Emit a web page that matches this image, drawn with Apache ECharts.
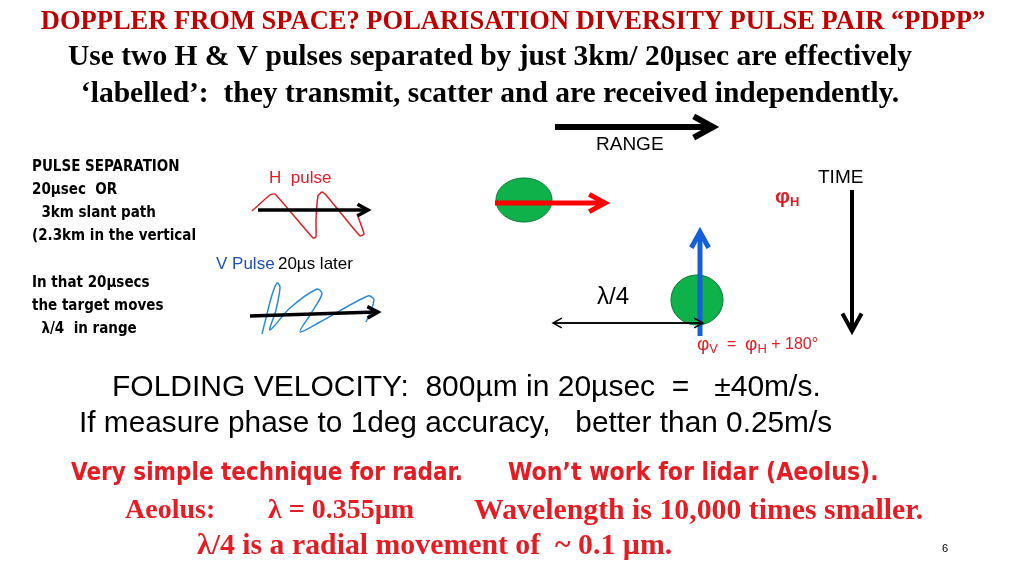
<!DOCTYPE html>
<html><head><meta charset="utf-8">
<script src="https://cdn.jsdelivr.net/npm/echarts@6/dist/echarts.min.js"></script>
<style>html,body{margin:0;background:#fff}#c{width:1024px;height:576px}</style>
</head><body><div id="c"></div>
<script>
var titleLines = ['DOPPLER FROM SPACE? POLARISATION DIVERSITY PULSE PAIR “PDPP”',
  'Use two H & V pulses separated by just 3km/ 20µsec are effectively',
  '‘labelled’:  they transmit, scatter and are received independently.'];
var leftNotes = ['PULSE SEPARATION', '20µsec  OR', '  3km slant path', '(2.3km in the vertical',
  '', 'In that 20µsecs', 'the target moves', '  λ/4  in range'];
var hWave = [[252,211],[270,195],[275,194],[313,238],[316,237],[316,220],[318,196],[322,192],[326,195],[360,236],[364,234],[357,214]];
var vWave = [[262,334],[266,318],[272,295],[277,283],[280,287],[276,310],[270,330],[290,308],[317,289],[322,294],[310,315],[300,332],[320,322],[368,296],[374,300],[366,322]];
var RED = '#e51c23', SERIF = 'Liberation Serif', SANS = 'Liberation Sans';

function txt(x, y, s, size, color, font, weight, align) {
  return { type: 'text', x: x, y: y, style: { text: s, fontSize: size, fill: color || '#000',
    fontFamily: font || SANS, fontWeight: weight || 'normal', textAlign: align || 'left', textVerticalAlign: 'middle' } };
}
function arrow(x1, y1, x2, y2, color, w, head) {
  var a = Math.atan2(y2 - y1, x2 - x1), h = head || 14;
  var p1 = [x2 - h * Math.cos(a - 0.5), y2 - h * Math.sin(a - 0.5)];
  var p2 = [x2 - h * Math.cos(a + 0.5), y2 - h * Math.sin(a + 0.5)];
  return [
    { type: 'line', shape: { x1: x1, y1: y1, x2: x2 - Math.cos(a) * 2, y2: y2 - Math.sin(a) * 2 }, style: { stroke: color, lineWidth: w } },
    { type: 'polyline', shape: { points: [p1, [x2, y2], p2] }, style: { stroke: color, lineWidth: w, fill: null, lineJoin: 'miter' } }
  ];
}
var g = [];
g.push(txt(513, 22, titleLines[0], 26.5, '#c00000', SERIF, 'bold', 'center'));
g.push(txt(490, 57, titleLines[1], 29.5, '#000', SERIF, 'bold', 'center'));
g.push(txt(490, 94, titleLines[2], 29.5, '#000', SERIF, 'bold', 'center'));
g = g.concat(arrow(555, 127, 713, 127, '#000', 6, 22));
g.push(txt(596, 145, 'RANGE', 19));
leftNotes.forEach(function (s, i) { if (s) g.push(txt(32, 167 + i * 23.2, s, 15, '#000', 'DejaVu Sans Condensed', 'bold')); });
g.push(txt(269, 178, 'H  pulse', 17, RED));
g.push({ type: 'polyline', shape: { points: hWave, smooth: 0.15 }, style: { stroke: RED, lineWidth: 1.5, fill: null } });
g = g.concat(arrow(258, 210, 368, 210, '#000', 3.5, 12));
g.push({ type: 'text', x: 216, y: 264, style: { rich: { b: { fill: '#1f4fbf', fontSize: 17, fontFamily: SANS }, k: { fill: '#000', fontSize: 17, fontFamily: SANS } },
  text: '{b|V Pulse} {k|20µs later}', textVerticalAlign: 'middle' } });
g.push({ type: 'polyline', shape: { points: vWave, smooth: 0.3 }, style: { stroke: '#2a8ad6', lineWidth: 1.5, fill: null } });
g = g.concat(arrow(250, 316, 378, 312, '#000', 3.5, 12));
g.push({ type: 'ellipse', shape: { cx: 524, cy: 200, rx: 28, ry: 22 }, style: { fill: '#0fb14a', stroke: '#0a7a32', lineWidth: 1 } });
g = g.concat(arrow(495, 203, 605, 203, '#ff0000', 5, 18));
g.push({ type: 'ellipse', shape: { cx: 697, cy: 300, rx: 26, ry: 25 }, style: { fill: '#0fb14a', stroke: '#0a7a32', lineWidth: 1 } });
g = g.concat(arrow(700, 336, 700, 232, '#1560d8', 5, 18));
g.push(txt(818, 178, 'TIME', 19));
g = g.concat(arrow(852, 190, 852, 331, '#000', 4, 20));
g.push({ type: 'text', x: 775, y: 197, style: { rich: { a: { fill: RED, fontSize: 21, fontFamily: SANS, fontWeight: 'bold' }, s: { fill: RED, fontSize: 13, fontFamily: SANS, fontWeight: 'bold', padding: [10, 0, 0, 0] } },
  text: '{a|φ}{s|H}', textVerticalAlign: 'middle' } });
g.push(txt(597, 297, 'λ/4', 24));
g = g.concat(arrow(703, 323, 553, 323, '#000', 1.5, 10));
g = g.concat(arrow(553, 323, 703, 323, '#000', 1.5, 10));
g.push({ type: 'text', x: 697, y: 345, style: { rich: { a: { fill: RED, fontSize: 19, fontFamily: SANS }, s: { fill: RED, fontSize: 13, fontFamily: SANS, padding: [8, 0, 0, 0] }, b: { fill: RED, fontSize: 16, fontFamily: SANS } },
  text: '{a|φ}{s|V}{b|  =  }{a|φ}{s|H}{b| + 180°}', textVerticalAlign: 'middle' } });
g.push(txt(112, 388, 'FOLDING VELOCITY:  800µm in 20µsec  =   ±40m/s.', 30));
g.push(txt(79, 424, 'If measure phase to 1deg accuracy,   better than 0.25m/s', 29.8));
g.push(txt(71, 474, 'Very simple technique for radar.', 24, RED, 'DejaVu Sans Condensed', 'bold'));
g.push(txt(508, 474, 'Won’t work for lidar (Aeolus).', 24.6, RED, 'DejaVu Sans Condensed', 'bold'));
g.push(txt(125, 511, 'Aeolus:', 28, RED, SERIF, 'bold'));
g.push(txt(268, 511, 'λ = 0.355µm', 28, RED, SERIF, 'bold'));
g.push(txt(474, 511, 'Wavelength is 10,000 times smaller.', 29.8, RED, SERIF, 'bold'));
g.push(txt(197, 546, 'λ/4 is a radial movement of  ~ 0.1 µm.', 29.8, RED, SERIF, 'bold'));
g.push(txt(942, 549, '6', 11));
var chart = echarts.init(document.getElementById('c'));
chart.setOption({ animation: false, graphic: g });
</script></body></html>
